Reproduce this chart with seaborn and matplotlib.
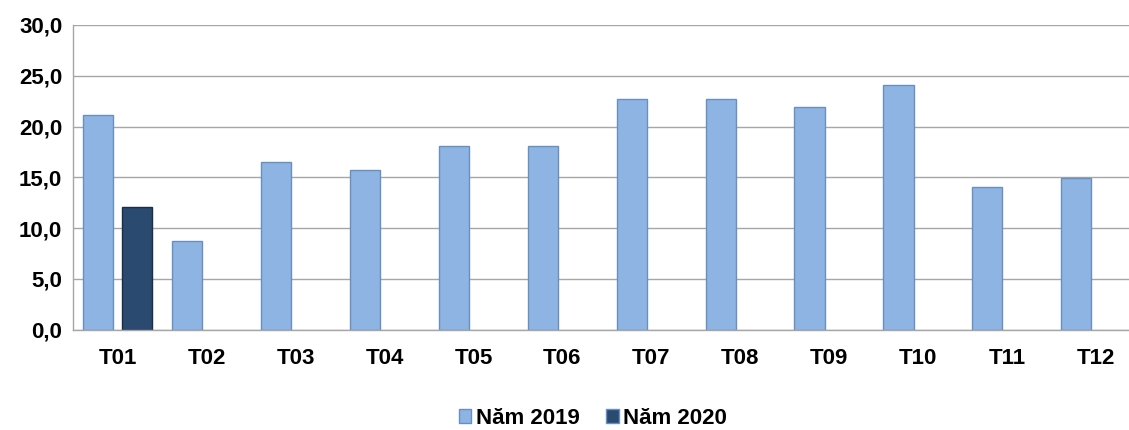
import seaborn as sns
import matplotlib.pyplot as plt
import pandas as pd
import numpy as np

months = ['T01', 'T02', 'T03', 'T04', 'T05', 'T06', 'T07', 'T08', 'T09', 'T10', 'T11', 'T12']
values_2019 = [21.1, 8.7, 16.5, 15.7, 18.1, 18.1, 22.7, 22.7, 21.9, 24.1, 14.1, 14.9]
values_2020 = [12.1, np.nan, np.nan, np.nan, np.nan, np.nan, np.nan, np.nan, np.nan, np.nan, np.nan, np.nan]
series = ['Năm 2019', 'Năm 2020']
colors = ['#8DB4E2', '#2A4A70']

df = pd.DataFrame({
    'month': months * 2,
    'value': values_2019 + values_2020,
    'series': [series[0]] * 12 + [series[1]] * 12,
})

sns.set_style('white')
plt.rcParams['font.family'] = ['Liberation Sans', 'DejaVu Sans']
plt.rcParams['font.weight'] = 'bold'
plt.rcParams['text.color'] = 'black'
plt.rcParams['xtick.color'] = 'black'
plt.rcParams['ytick.color'] = 'black'

fig = plt.figure(figsize=(11.29, 4.30), dpi=100)
ax = fig.add_axes([0.065, 0.233, 0.945, 0.709])

sns.barplot(data=df, x='month', y='value', hue='series', palette=colors, saturation=1,
            width=0.88, gap=0.23, ax=ax, edgecolor='#6A8FBF', linewidth=1.0)
# darker edge for the 2020 bar
for p in ax.containers[1]:
    p.set_edgecolor('#1A2E48')

ax.set_ylim(0, 30)
ax.set_yticks(np.arange(0, 31, 5))
ax.set_yticklabels([f'{v:.1f}'.replace('.', ',') for v in np.arange(0, 31, 5)], fontsize=16)
ax.tick_params(axis='x', labelsize=16, pad=13, length=0)
ax.tick_params(axis='y', pad=8, length=0)
ax.set_xlabel('')
ax.set_ylabel('')
ax.yaxis.grid(True, color='#A6A6A6', linewidth=1)
ax.set_axisbelow(True)
for s in ['top', 'right']:
    ax.spines[s].set_visible(False)
for s in ['left', 'bottom']:
    ax.spines[s].set_color('#A6A6A6')
    ax.spines[s].set_linewidth(1)

leg = ax.legend(loc='upper center', bbox_to_anchor=(0.487, -0.19), ncol=2, frameon=False,
                fontsize=16, handlelength=0.55, handleheight=0.55, handletextpad=0.2,
                columnspacing=1.2)

plt.savefig('out.png', dpi=100)
